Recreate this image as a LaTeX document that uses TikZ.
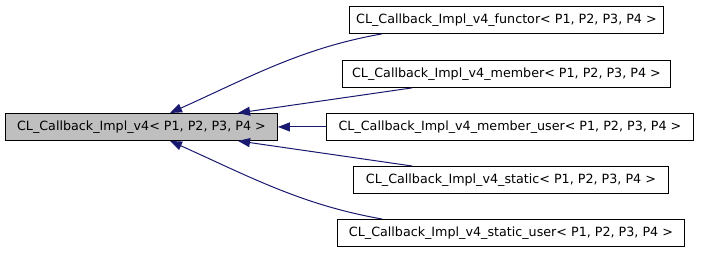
\documentclass[tikz,border=0pt]{standalone}
\usepackage{fontspec}
\setmainfont{DejaVu Sans}
\usetikzlibrary{arrows.meta}
\definecolor{edgeblue}{HTML}{191970}
\definecolor{basefill}{HTML}{BFBFBF}
\begin{document}
\begin{tikzpicture}[x=1pt,y=-1pt,
  cls/.style={draw=black, line width=0.9pt, anchor=north west, minimum height=27pt,
    inner sep=0pt, font=\fontsize{12.7}{14}\selectfont},
  inherit/.style={draw=edgeblue, line width=1pt, -{Triangle[length=12pt,width=9pt,fill=edgeblue]}},
]
\useasboundingbox (0,0) rectangle (701,253);

% base class
\node[cls, fill=basefill, minimum width=272pt] (base) at (5,113)
  {CL\_Callback\_Impl\_v4< P1, P2, P3, P4 >};

% derived classes
\node[cls, minimum width=314pt] (functor) at (349,6)
  {CL\_Callback\_Impl\_v4\_functor< P1, P2, P3, P4 >};
\node[cls, minimum width=328pt] (member) at (342,60)
  {CL\_Callback\_Impl\_v4\_member< P1, P2, P3, P4 >};
\node[cls, minimum width=367pt] (memberuser) at (326,113)
  {CL\_Callback\_Impl\_v4\_member\_user< P1, P2, P3, P4 >};
\node[cls, minimum width=315pt] (static) at (353,166)
  {CL\_Callback\_Impl\_v4\_static< P1, P2, P3, P4 >};
\node[cls, minimum width=347pt] (staticuser) at (337,219)
  {CL\_Callback\_Impl\_v4\_static\_user< P1, P2, P3, P4 >};

% inheritance edges
\draw[inherit] ([xshift=33pt]functor.south west)
  .. controls +(-80,14) and +(80,-36) .. ([xshift=165pt]base.north west);
\draw[inherit] ([xshift=70pt]member.south west) -- ([xshift=233pt]base.north west);
\draw[inherit] (memberuser.west) -- (base.east);
\draw[inherit] ([xshift=59pt]static.north west) -- ([xshift=233pt]base.south west);
\draw[inherit] ([xshift=45pt]staticuser.north west)
  .. controls +(-80,-14) and +(80,36) .. ([xshift=165pt]base.south west);
\end{tikzpicture}
\end{document}
